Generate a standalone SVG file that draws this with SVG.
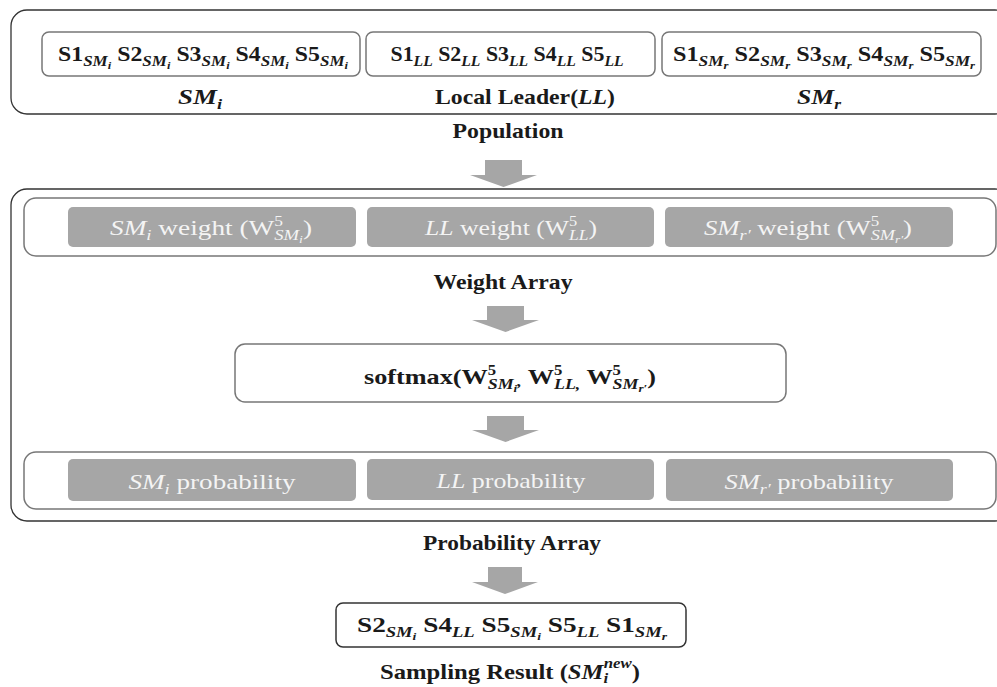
<svg xmlns="http://www.w3.org/2000/svg" width="997" height="687" viewBox="0 0 997 687">
  <style>
    text { font-family: "Liberation Serif", "DejaVu Serif", serif; }
    .frame { fill: #fff; stroke: #333; stroke-width: 1.3; }
    .cell { fill: #fff; stroke: #777; stroke-width: 1.5; }
    .slot { fill: #a6a6a6; }
    .arrow { fill: #a6a6a6; }
    .seq { font-size: 21px; font-weight: bold; fill: #1a1a1a; text-anchor: middle; }
    .head { font-size: 22px; font-weight: bold; fill: #1a1a1a; text-anchor: middle; }
    .lab { font-size: 22px; fill: #f4f4f4; text-anchor: middle; }
    .sb { font-size: 15px; font-style: italic; }
    .ss { font-size: 11px; font-style: italic; }
    .sp { font-size: 14px; }
    .it { font-style: italic; }
  </style>

  <!-- Population -->
  <g id="population">
    <rect class="frame" x="11" y="10" width="1000" height="104" rx="16"/>
    <g id="sm-i">
      <rect class="cell" x="42" y="32" width="318" height="44" rx="7"/>
      <text class="seq" x="203" y="61" textLength="290" lengthAdjust="spacingAndGlyphs">S1<tspan class="sb" dy="5">SM</tspan><tspan class="ss" dy="3">i</tspan><tspan dy="-8"> S2</tspan><tspan class="sb" dy="5">SM</tspan><tspan class="ss" dy="3">i</tspan><tspan dy="-8"> S3</tspan><tspan class="sb" dy="5">SM</tspan><tspan class="ss" dy="3">i</tspan><tspan dy="-8"> S4</tspan><tspan class="sb" dy="5">SM</tspan><tspan class="ss" dy="3">i</tspan><tspan dy="-8"> S5</tspan><tspan class="sb" dy="5">SM</tspan><tspan class="ss" dy="3">i</tspan></text>
      <text class="head it" x="200" y="104" textLength="44" lengthAdjust="spacingAndGlyphs">SM<tspan class="sb" dy="5">i</tspan></text>
    </g>
    <g id="local-leader">
      <rect class="cell" x="366" y="32" width="289" height="44" rx="7"/>
      <text class="seq" x="507" y="61" textLength="233" lengthAdjust="spacingAndGlyphs">S1<tspan class="sb" dy="5">LL</tspan><tspan dy="-5"> S2</tspan><tspan class="sb" dy="5">LL</tspan><tspan dy="-5"> S3</tspan><tspan class="sb" dy="5">LL</tspan><tspan dy="-5"> S4</tspan><tspan class="sb" dy="5">LL</tspan><tspan dy="-5"> S5</tspan><tspan class="sb" dy="5">LL</tspan></text>
      <text class="head" x="525" y="104" textLength="180" lengthAdjust="spacingAndGlyphs">Local Leader(<tspan class="it">LL</tspan>)</text>
    </g>
    <g id="sm-r">
      <rect class="cell" x="662" y="32" width="319" height="44" rx="7"/>
      <text class="seq" x="824" y="61" textLength="302" lengthAdjust="spacingAndGlyphs">S1<tspan class="sb" dy="5">SM</tspan><tspan class="ss" dy="3">r</tspan><tspan dy="-8"> S2</tspan><tspan class="sb" dy="5">SM</tspan><tspan class="ss" dy="3">r</tspan><tspan dy="-8"> S3</tspan><tspan class="sb" dy="5">SM</tspan><tspan class="ss" dy="3">r</tspan><tspan dy="-8"> S4</tspan><tspan class="sb" dy="5">SM</tspan><tspan class="ss" dy="3">r</tspan><tspan dy="-8"> S5</tspan><tspan class="sb" dy="5">SM</tspan><tspan class="ss" dy="3">r</tspan></text>
      <text class="head it" x="819" y="104" textLength="44" lengthAdjust="spacingAndGlyphs">SM<tspan class="sb" dy="5">r</tspan></text>
    </g>
    <text class="head" x="508" y="138" textLength="111" lengthAdjust="spacingAndGlyphs">Population</text>
  </g>

  <!-- Weights, softmax and probabilities -->
  <g id="selection">
    <rect class="frame" x="11" y="189" width="1000" height="332" rx="16"/>

    <g id="weight-array">
      <rect class="cell" x="24" y="198" width="972" height="58" rx="12"/>
      <rect class="slot" x="68" y="207" width="288" height="40" rx="5"/>
      <text class="lab" x="211" y="235" textLength="202" lengthAdjust="spacingAndGlyphs"><tspan class="it">SM</tspan><tspan class="sb" dy="5">i</tspan><tspan dy="-5"> weight (W</tspan><tspan class="sp" dy="-9">5</tspan><tspan class="sb" dx="-7" dy="14">SM</tspan><tspan class="ss" dy="3">i</tspan><tspan dy="-8">)</tspan></text>
      <rect class="slot" x="367" y="207" width="287" height="40" rx="5"/>
      <text class="lab" x="511" y="235" textLength="172" lengthAdjust="spacingAndGlyphs"><tspan class="it">LL</tspan> weight (W<tspan class="sp" dy="-9">5</tspan><tspan class="sb" dx="-7" dy="14">LL</tspan><tspan dy="-5">)</tspan></text>
      <rect class="slot" x="665" y="207" width="288" height="40" rx="5"/>
      <text class="lab" x="808" y="235" textLength="208" lengthAdjust="spacingAndGlyphs"><tspan class="it">SM</tspan><tspan class="sb" dy="5">r′</tspan><tspan dy="-5"> weight (W</tspan><tspan class="sp" dy="-9">5</tspan><tspan class="sb" dx="-7" dy="14">SM</tspan><tspan class="ss" dy="3">r′</tspan><tspan dy="-8">)</tspan></text>
    </g>
    <text class="head" x="503" y="289" textLength="139" lengthAdjust="spacingAndGlyphs">Weight Array</text>

    <g id="softmax">
      <rect class="cell" x="235" y="344" width="551" height="58" rx="10"/>
      <text class="seq" x="510" y="384" style="font-size:22px" textLength="292" lengthAdjust="spacingAndGlyphs">softmax(W<tspan class="sp" dy="-9">5</tspan><tspan class="sb" dx="-7" dy="14">SM</tspan><tspan class="ss" dy="3">i</tspan><tspan class="sb" dy="-6">,</tspan><tspan dy="-2"> W</tspan><tspan class="sp" dy="-9">5</tspan><tspan class="sb" dx="-7" dy="14">LL</tspan><tspan class="sb">,</tspan><tspan dy="-5"> W</tspan><tspan class="sp" dy="-9">5</tspan><tspan class="sb" dx="-7" dy="14">SM</tspan><tspan class="ss" dy="3">r′</tspan><tspan dy="-8">)</tspan></text>
    </g>

    <g id="probability-array">
      <rect class="cell" x="24" y="452" width="972" height="57" rx="12"/>
      <rect class="slot" x="68" y="459" width="288" height="42" rx="5"/>
      <text class="lab" x="212" y="489" textLength="167" lengthAdjust="spacingAndGlyphs"><tspan class="it">SM</tspan><tspan class="sb" dy="5">i</tspan><tspan dy="-5"> probability</tspan></text>
      <rect class="slot" x="367" y="459" width="287" height="41" rx="5"/>
      <text class="lab" x="511" y="488" textLength="149" lengthAdjust="spacingAndGlyphs"><tspan class="it">LL</tspan> probability</text>
      <rect class="slot" x="666" y="459" width="287" height="42" rx="5"/>
      <text class="lab" x="809" y="489" textLength="169" lengthAdjust="spacingAndGlyphs"><tspan class="it">SM</tspan><tspan class="sb" dy="5">r′</tspan><tspan dy="-5"> probability</tspan></text>
    </g>
  </g>
  <text class="head" x="512" y="550" textLength="178" lengthAdjust="spacingAndGlyphs">Probability Array</text>

  <!-- Sampled individual -->
  <g id="sampling-result">
    <rect class="cell" x="336" y="603" width="350" height="44" rx="7" style="stroke:#333"/>
    <text class="seq" x="512" y="632" style="font-size:22px" textLength="310" lengthAdjust="spacingAndGlyphs">S2<tspan class="sb" dy="5">SM</tspan><tspan class="ss" dy="3">i</tspan><tspan dy="-8"> S4</tspan><tspan class="sb" dy="5">LL</tspan><tspan dy="-5"> S5</tspan><tspan class="sb" dy="5">SM</tspan><tspan class="ss" dy="3">i</tspan><tspan dy="-8"> S5</tspan><tspan class="sb" dy="5">LL</tspan><tspan dy="-5"> S1</tspan><tspan class="sb" dy="5">SM</tspan><tspan class="ss" dy="3">r</tspan></text>
    <text class="head" x="510" y="679" textLength="260" lengthAdjust="spacingAndGlyphs">Sampling Result (<tspan class="it">SM</tspan><tspan class="sb" dy="4">i</tspan><tspan class="sb" dx="-4" dy="-15">new</tspan><tspan dy="11">)</tspan></text>
  </g>

  <!-- Block arrows between stages -->
  <g id="connectors">
    <polygon class="arrow" points="485,160 522,160 522,175 537,175 503.5,187 470,175 485,175"/>
    <polygon class="arrow" points="487,306 524,306 524,320 539,320 505.5,332 472,320 487,320"/>
    <polygon class="arrow" points="487,416 524,416 524,430 539,430 505.5,442 472,430 487,430"/>
    <polygon class="arrow" points="488,567 522,567 522,582 538,582 505,594 472,582 488,582"/>
  </g>
</svg>
